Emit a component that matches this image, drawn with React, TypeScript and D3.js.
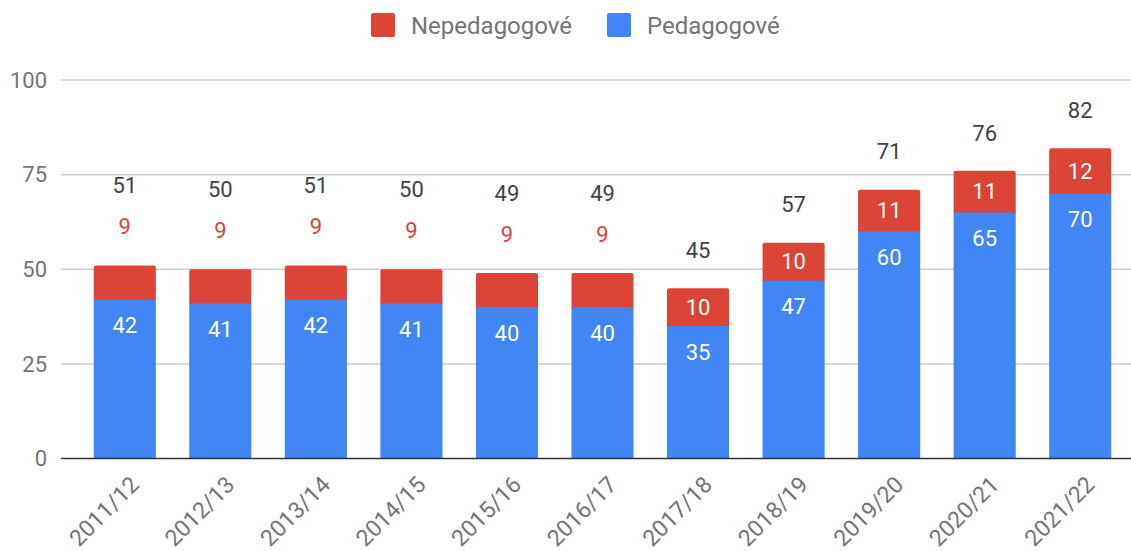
import * as d3 from 'd3';

const years = [
  '2011/12', '2012/13', '2013/14', '2014/15', '2015/16', '2016/17',
  '2017/18', '2018/19', '2019/20', '2020/21', '2021/22',
];
const pedagogove = [42, 41, 42, 41, 40, 40, 35, 47, 60, 65, 70];
const nepedagogove = [9, 9, 9, 9, 9, 9, 10, 10, 11, 11, 12];
const yTicks = [0, 25, 50, 75, 100];

const BLUE = '#4285f4';
const RED = '#db4437';
const FONT = 'Roboto, "Noto Sans", sans-serif';

const width = 1131;
const height = 551;

const App = () => {
  const x = d3
    .scaleBand<string>()
    .domain(years)
    .range([77, 1128])
    .paddingInner(0.35)
    .paddingOuter(0.175);

  const y = d3.scaleLinear().domain([0, 100]).range([458.5, 80]);

  const bars = years.map((year, i) => {
    const p = pedagogove[i];
    const n = nepedagogove[i];
    const total = p + n;
    const x0 = x(year)!;
    const cx = x0 + x.bandwidth() / 2;
    // small red segments get their label above the bar
    const outside = y(p) - y(total) < 36;
    return { year, p, n, total, x0, cx, outside };
  });

  return (
    <svg
      width={width}
      height={height}
      style={{ position: 'absolute', left: 0, top: 0, fontFamily: FONT }}
    >
      {/* legend */}
      <g>
        <rect x={371} y={13} width={24} height={24} rx={2} fill={RED} />
        <text x={411} y={26} dy='0.35em' fontSize={24} fill='#757575'>
          Nepedagogové
        </text>
        <rect x={607} y={13} width={24} height={24} rx={2} fill={BLUE} />
        <text x={647} y={26} dy='0.35em' fontSize={24} fill='#757575'>
          Pedagogové
        </text>
      </g>

      {/* grid + y labels */}
      {yTicks.map((t) => (
        <g key={t}>
          {t !== 0 && (
            <line x1={61} x2={1131} y1={y(t)} y2={y(t)} stroke='#cccccc' strokeWidth={1.5} />
          )}
          <text
            x={47}
            y={y(t)}
            dy='0.35em'
            textAnchor='end'
            fontSize={22}
            fill='#757575'
          >
            {t}
          </text>
        </g>
      ))}

      {/* bars */}
      {bars.map((b) => (
        <g key={b.year}>
          <rect
            x={b.x0}
            y={y(b.total)}
            width={x.bandwidth()}
            height={y(b.p) - y(b.total) + 2}
            rx={2}
            fill={RED}
          />
          <rect
            x={b.x0}
            y={y(b.p)}
            width={x.bandwidth()}
            height={y(0) - y(b.p)}
            fill={BLUE}
          />
          <text
            x={b.cx}
            y={y(b.p) + 26}
            dy='0.35em'
            textAnchor='middle'
            fontSize={22}
            fill='#ffffff'
          >
            {b.p}
          </text>
          {b.outside ? (
            <>
              <text
                x={b.cx}
                y={y(b.total) - 39}
                dy='0.35em'
                textAnchor='middle'
                fontSize={22}
                fill={RED}
              >
                {b.n}
              </text>
              <text
                x={b.cx}
                y={y(b.total) - 80}
                dy='0.35em'
                textAnchor='middle'
                fontSize={22}
                fill='#424242'
              >
                {b.total}
              </text>
            </>
          ) : (
            <>
              <text
                x={b.cx}
                y={(y(b.p) + y(b.total)) / 2}
                dy='0.35em'
                textAnchor='middle'
                fontSize={22}
                fill='#ffffff'
              >
                {b.n}
              </text>
              <text
                x={b.cx}
                y={y(b.total) - 38}
                dy='0.35em'
                textAnchor='middle'
                fontSize={22}
                fill='#424242'
              >
                {b.total}
              </text>
            </>
          )}
        </g>
      ))}

      {/* baseline */}
      <line x1={61} x2={1131} y1={y(0)} y2={y(0)} stroke='#333333' strokeWidth={1.5} />

      {/* x labels */}
      {bars.map((b) => (
        <text
          key={b.year}
          transform={`translate(${b.cx + 10},${y(0) + 22}) rotate(-45)`}
          textAnchor='end'
          dy='0.35em'
          fontSize={23}
          fill='#757575'
        >
          {b.year}
        </text>
      ))}
    </svg>
  );
};

export default App;
